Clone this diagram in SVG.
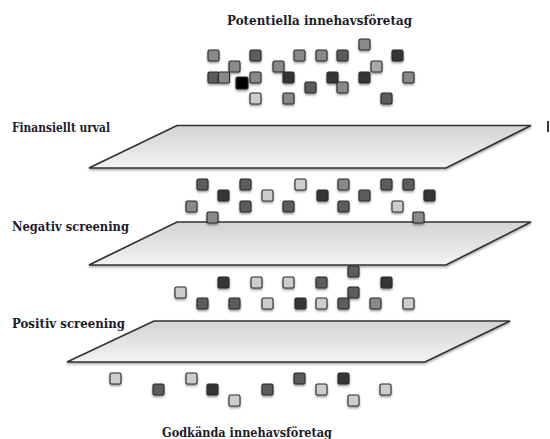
<svg xmlns="http://www.w3.org/2000/svg" xmlns:xlink="http://www.w3.org/1999/xlink" width="550" height="439" viewBox="0 0 550 439">
  <defs>
    <linearGradient id="planeFill" x1="0" y1="0" x2="0" y2="1">
      <stop offset="0" stop-color="#d3d3d3"/>
      <stop offset="1" stop-color="#f3f3f3"/>
    </linearGradient>
    <filter id="sqShadow" x="-40%" y="-40%" width="180%" height="200%">
      <feDropShadow dx="0" dy="1.5" stdDeviation="1" flood-color="#000" flood-opacity="0.45"/>
    </filter>
    <filter id="planeShadow" x="-5%" y="-10%" width="110%" height="130%">
      <feDropShadow dx="0" dy="1.5" stdDeviation="1" flood-color="#000" flood-opacity="0.35"/>
    </filter>
  </defs>
  <style>
    .label { font-family: "DejaVu Serif", "Liberation Serif", serif; font-weight: bold; font-size: 13px; fill: #1c1c2a; }
    .plane { fill: url(#planeFill); stroke: #333333; stroke-width: 1.7; stroke-linejoin: miter; filter: url(#planeShadow); }
    .sq rect { stroke: #2a2a2a; stroke-width: 1.1; filter: url(#sqShadow); }
    .l { fill: #cdcdcd; }
    .a { fill: #a9a9a9; }
    .m { fill: #898989; }
    .d { fill: #5c5c5c; }
    .k { fill: #353535; }
    .b { fill: #000000; }
  </style>

  <rect width="550" height="439" fill="#ffffff"/>

  <!-- titles and stage labels -->
  <text class="label" x="227" y="25" textLength="185" lengthAdjust="spacingAndGlyphs">Potentiella innehavsföretag</text>
  <text class="label" x="12" y="132" textLength="98" lengthAdjust="spacingAndGlyphs">Finansiellt urval</text>
  <text class="label" x="12" y="231" textLength="117" lengthAdjust="spacingAndGlyphs">Negativ screening</text>
  <text class="label" x="12" y="328" textLength="113" lengthAdjust="spacingAndGlyphs">Positiv screening</text>
  <text class="label" x="162" y="437" textLength="170" lengthAdjust="spacingAndGlyphs">Godkända innehavsföretag</text>

  <!-- stray cursor mark -->
  <rect x="547" y="121" width="2" height="11" fill="#3a3a3a"/>

  <!-- candidate companies above the first filter -->
  <g id="companies-potential" class="sq">
    <rect class="m" x="208" y="50" width="11" height="11" rx="1.5"/>
    <rect class="d" x="250" y="50" width="11" height="11" rx="1.5"/>
    <rect class="m" x="294" y="50" width="11" height="11" rx="1.5"/>
    <rect class="m" x="316" y="50" width="11" height="11" rx="1.5"/>
    <rect class="d" x="337" y="50" width="11" height="11" rx="1.5"/>
    <rect class="m" x="359" y="39" width="11" height="11" rx="1.5"/>
    <rect class="k" x="392" y="50" width="11" height="11" rx="1.5"/>
    <rect class="m" x="229" y="61" width="11" height="11" rx="1.5"/>
    <rect class="m" x="273" y="61" width="11" height="11" rx="1.5"/>
    <rect class="d" x="208" y="72" width="11" height="11" rx="1.5"/>
    <rect class="m" x="218.5" y="72" width="11" height="11" rx="1.5"/>
    <rect class="b" x="236" y="77" width="12" height="12" rx="1.5"/>
    <rect class="m" x="250" y="72" width="11" height="11" rx="1.5"/>
    <rect class="k" x="283" y="72" width="11" height="11" rx="1.5"/>
    <rect class="k" x="327" y="72" width="11" height="11" rx="1.5"/>
    <rect class="k" x="359" y="72" width="11" height="11" rx="1.5"/>
    <rect class="a" x="371" y="61" width="11" height="11" rx="1.5"/>
    <rect class="m" x="403" y="72" width="11" height="11" rx="1.5"/>
    <rect class="d" x="305" y="82" width="11" height="11" rx="1.5"/>
    <rect class="m" x="337" y="82" width="11" height="11" rx="1.5"/>
    <rect class="l" x="250" y="93" width="11" height="11" rx="1.5"/>
    <rect class="m" x="283" y="93" width="11" height="11" rx="1.5"/>
    <rect class="d" x="381" y="93" width="11" height="11" rx="1.5"/>
  </g>

  <!-- filter planes -->
  <g id="plane-financial">
    <polygon class="plane" points="177,125.5 531,125.5 446,168 89,168"/>
  </g>
  <g id="plane-negative">
    <polygon class="plane" points="177,222 531,222 446,265 89,265"/>
  </g>

  <!-- companies passing the financial filter -->
  <g id="companies-financial" class="sq">
    <rect class="d" x="197" y="179" width="11" height="11" rx="1.5"/>
    <rect class="k" x="218" y="190" width="11" height="11" rx="1.5"/>
    <rect class="d" x="240" y="179" width="11" height="11" rx="1.5"/>
    <rect class="l" x="262" y="190" width="11" height="11" rx="1.5"/>
    <rect class="l" x="295" y="179" width="11" height="11" rx="1.5"/>
    <rect class="k" x="317" y="190" width="11" height="11" rx="1.5"/>
    <rect class="m" x="338" y="179" width="11" height="11" rx="1.5"/>
    <rect class="d" x="359" y="190" width="11" height="11" rx="1.5"/>
    <rect class="d" x="381" y="179" width="11" height="11" rx="1.5"/>
    <rect class="d" x="403" y="179" width="11" height="11" rx="1.5"/>
    <rect class="k" x="424" y="190" width="11" height="11" rx="1.5"/>
    <rect class="m" x="186" y="201" width="11" height="11" rx="1.5"/>
    <rect class="d" x="240" y="201" width="11" height="11" rx="1.5"/>
    <rect class="d" x="283" y="201" width="11" height="11" rx="1.5"/>
    <rect class="d" x="338" y="201" width="11" height="11" rx="1.5"/>
    <rect class="l" x="392" y="201" width="11" height="11" rx="1.5"/>
    <rect class="m" x="207" y="212" width="11" height="11" rx="1.5"/>
    <rect class="m" x="413" y="212" width="11" height="11" rx="1.5"/>
  </g>

  <!-- companies passing the negative screening -->
  <g id="companies-negative" class="sq">
    <rect class="d" x="348" y="266" width="11" height="11" rx="1.5"/>
    <rect class="k" x="218" y="277" width="11" height="11" rx="1.5"/>
    <rect class="l" x="251" y="277" width="11" height="11" rx="1.5"/>
    <rect class="l" x="283" y="277" width="11" height="11" rx="1.5"/>
    <rect class="d" x="316" y="277" width="11" height="11" rx="1.5"/>
    <rect class="k" x="381" y="277" width="11" height="11" rx="1.5"/>
    <rect class="l" x="175" y="287" width="11" height="11" rx="1.5"/>
    <rect class="d" x="197" y="298" width="11" height="11" rx="1.5"/>
    <rect class="d" x="229" y="298" width="11" height="11" rx="1.5"/>
    <rect class="l" x="262" y="298" width="11" height="11" rx="1.5"/>
    <rect class="k" x="295" y="298" width="11" height="11" rx="1.5"/>
    <rect class="l" x="316" y="298" width="11" height="11" rx="1.5"/>
    <rect class="d" x="348" y="287" width="11" height="11" rx="1.5"/>
    <rect class="d" x="338" y="298" width="11" height="11" rx="1.5"/>
    <rect class="m" x="370" y="298" width="11" height="11" rx="1.5"/>
    <rect class="l" x="403" y="298" width="11" height="11" rx="1.5"/>
  </g>

  <g id="plane-positive">
    <polygon class="plane" points="154,321 510,321 425,362 67,362"/>
  </g>

  <!-- approved companies -->
  <g id="companies-approved" class="sq">
    <rect class="l" x="110" y="373" width="11" height="11" rx="1.5"/>
    <rect class="d" x="153" y="384" width="11" height="11" rx="1.5"/>
    <rect class="l" x="186" y="373" width="11" height="11" rx="1.5"/>
    <rect class="k" x="207" y="384" width="11" height="11" rx="1.5"/>
    <rect class="l" x="229" y="395" width="11" height="11" rx="1.5"/>
    <rect class="d" x="262" y="384" width="11" height="11" rx="1.5"/>
    <rect class="d" x="294" y="373" width="11" height="11" rx="1.5"/>
    <rect class="l" x="316" y="384" width="11" height="11" rx="1.5"/>
    <rect class="k" x="338" y="373" width="11" height="11" rx="1.5"/>
    <rect class="l" x="348" y="395" width="11" height="11" rx="1.5"/>
    <rect class="l" x="380" y="384" width="11" height="11" rx="1.5"/>
  </g>
</svg>
